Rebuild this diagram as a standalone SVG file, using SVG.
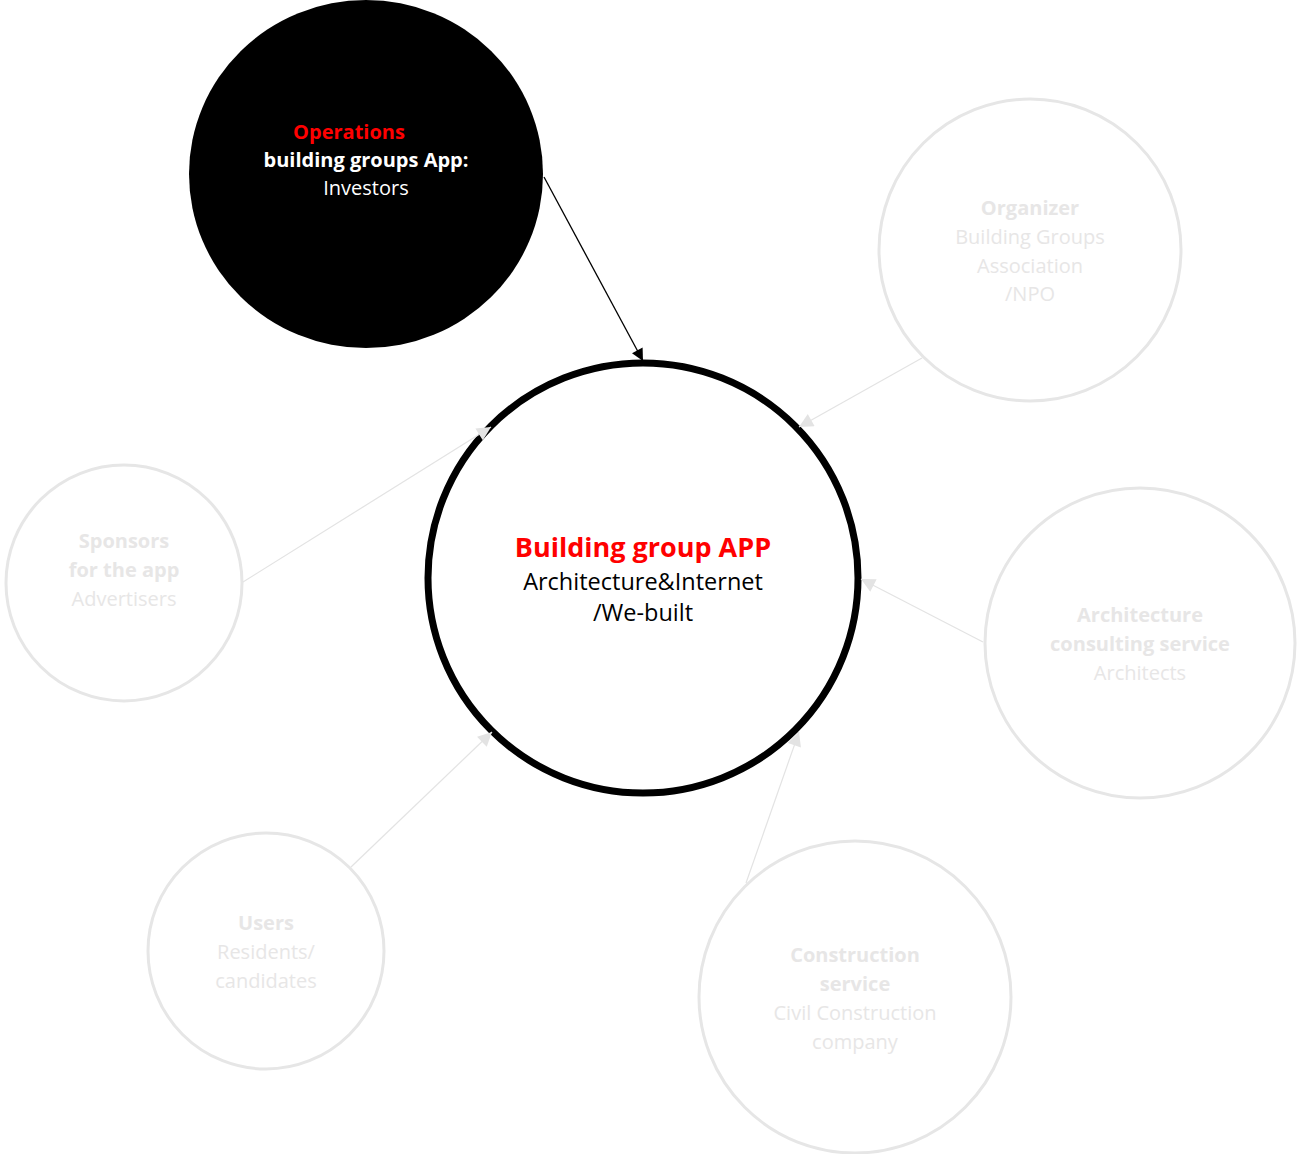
<svg xmlns="http://www.w3.org/2000/svg" width="1297" height="1154" viewBox="0 0 1297 1154">
<defs>
<style>
text{font-family:"Open Sans",Lato,"Liberation Sans",sans-serif;text-anchor:middle;font-size:20px}
.b{font-weight:bold}
.faint{fill:#e7e6e6}
.node-faint{fill:#ffffff;stroke:#e6e6e6;stroke-width:3}
.conn-faint{stroke:#e3e3e3;stroke-width:1.2;fill:none;marker-end:url(#ah-gray)}
.conn-black{stroke:#000;stroke-width:1.3;fill:none;marker-end:url(#ah-black)}
</style>
<marker id="ah-gray" viewBox="0 0 10 10" refX="10" refY="5" markerWidth="17" markerHeight="14" markerUnits="userSpaceOnUse" orient="auto">
<path d="M0,0 L10,5 L0,10 z" fill="#e3e3e3"/>
</marker>
<marker id="ah-black" viewBox="0 0 10 10" refX="10" refY="5" markerWidth="15" markerHeight="12" markerUnits="userSpaceOnUse" orient="auto">
<path d="M0,0 L10,5 L0,10 z" fill="#000"/>
</marker>
</defs>
<rect width="1297" height="1154" fill="#ffffff"/>

<g id="node-operations">
<ellipse cx="366" cy="174" rx="177" ry="174" fill="#000"/>
<text x="349" y="139" class="b" fill="#ff0000">Operations</text>
<text x="366" y="167" class="b" fill="#ffffff">building groups App:</text>
<text x="366" y="195" fill="#ffffff">Investors</text>
</g>

<g id="node-organizer">
<circle cx="1030" cy="250" r="151" class="node-faint"/>
<text x="1030" y="215" class="b faint">Organizer</text>
<text x="1030" y="244" class="faint">Building Groups</text>
<text x="1030" y="273" class="faint">Association</text>
<text x="1030" y="301" class="faint">/NPO</text>
</g>

<g id="node-sponsors">
<circle cx="124" cy="583" r="118" class="node-faint"/>
<text x="124" y="548" class="b faint">Sponsors</text>
<text x="124" y="577" class="b faint">for the app</text>
<text x="124" y="606" class="faint">Advertisers</text>
</g>

<g id="node-architecture">
<circle cx="1140" cy="643" r="155" class="node-faint"/>
<text x="1140" y="622" class="b faint">Architecture</text>
<text x="1140" y="651" class="b faint">consulting service</text>
<text x="1140" y="680" class="faint">Architects</text>
</g>

<g id="node-users">
<circle cx="266" cy="951" r="118" class="node-faint"/>
<text x="266" y="930" class="b faint">Users</text>
<text x="266" y="959" class="faint">Residents/</text>
<text x="266" y="988" class="faint">candidates</text>
</g>

<g id="node-construction">
<circle cx="855" cy="997" r="156" class="node-faint"/>
<text x="855" y="962" class="b faint">Construction</text>
<text x="855" y="991" class="b faint">service</text>
<text x="855" y="1020" class="faint">Civil Construction</text>
<text x="855" y="1049" class="faint">company</text>
</g>

<g id="node-app">
<circle cx="643" cy="578" r="215" fill="#ffffff" stroke="#000" stroke-width="7"/>
<text x="643" y="557" class="b" fill="#ff0000" style="font-size:27px">Building group APP</text>
<text x="643" y="590" fill="#000" style="font-size:23.5px">Architecture&amp;Internet</text>
<text x="643" y="621" fill="#000" style="font-size:23.5px">/We-built</text>
</g>

<g id="connectors">
<line x1="544" y1="177" x2="643" y2="361" class="conn-black"/>
<line x1="922" y1="358" x2="799" y2="427" class="conn-faint"/>
<line x1="243" y1="582" x2="491" y2="427" class="conn-faint"/>
<line x1="983" y1="642" x2="861" y2="579" class="conn-faint"/>
<line x1="351" y1="867" x2="492" y2="732" class="conn-faint"/>
<line x1="746" y1="883" x2="799" y2="732" class="conn-faint"/>
</g>
</svg>
